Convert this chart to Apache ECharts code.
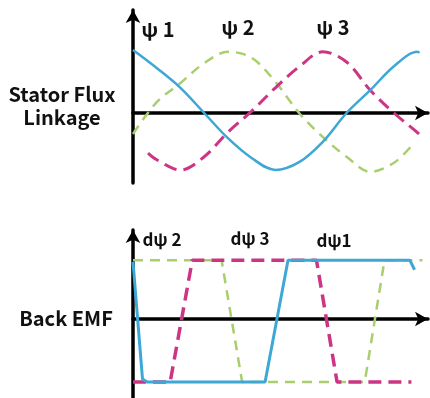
<!DOCTYPE html>
<html>
<head>
<meta charset="utf-8">
<script src="https://cdn.jsdelivr.net/npm/echarts@6/dist/echarts.min.js"></script>
<style>
  html, body { margin: 0; padding: 0; background: #fff; }
  #chart { width: 430px; height: 398px; }
</style>
</head>
<body>
<div id="chart"></div>
<script>
// Electrical angle (degrees) and normalised amplitude for each phase.
// Stator flux linkage, three phases 120 degrees apart.
const psi1 = [[0,1.05],[30,0.75],[60,0.42],[90,0],[120,-0.42],[150,-0.75],[180,-0.95],[210,-0.82],[240,-0.48],[270,0],[300,0.38],[330,0.78],[360,1.02],[362,1.0]];
const psi2 = [[0,-0.35],[30,0.18],[60,0.5],[90,0.83],[120,1.02],[150,0.92],[180,0.52],[210,0],[240,-0.4],[270,-0.73],[300,-0.98],[330,-0.83],[352,-0.55]];
const psi3 = [[19,-0.67],[30,-0.78],[60,-0.95],[90,-0.73],[120,-0.32],[150,0.03],[180,0.42],[210,0.77],[240,1.02],[270,0.85],[300,0.38],[330,0],[360,-0.33],[366,-0.4]];

// Back EMF (derivative of flux), trapezoidal waveforms.
const dpsi1 = [[0,0.95],[12,-1.0],[18,-1.05],[167,-1.05],[196,0.98],[350,0.98],[356,0.82]];
const dpsi2 = [[0,0.98],[112,0.98],[138,-1.05],[293,-1.05],[318,0.98],[366,0.98]];
const dpsi3 = [[0,-1.05],[47,-1.05],[75,0.98],[232,0.98],[258,-1.05],[352,-1.05]];

const fluxLabels = ['ψ 1', 'ψ 2', 'ψ 3'];
const emfLabels = ['dψ 2', 'dψ 3', 'dψ1'];
const rowTitles = ['Stator Flux\nLinkage', 'Back EMF'];

const BLUE = '#3da7d5';
const GREEN = '#a8ce6e';
const MAGENTA = '#cc3584';
const FONT = '"Noto Sans CJK KR", "Noto Sans", sans-serif';

function xAxisCfg(gridIndex) {
  return {
    type: 'value', gridIndex, min: 0, max: 373,
    axisLine: { show: true, onZero: true, symbol: ['none', 'arrow'], symbolSize: [11, 13], lineStyle: { color: '#000', width: 3.5 } },
    axisTick: { show: false }, axisLabel: { show: false }, splitLine: { show: false }
  };
}
function yAxisCfg(gridIndex, min, max) {
  return {
    type: 'value', gridIndex, min, max,
    axisLine: { show: true, onZero: false, symbol: ['none', 'arrow'], symbolSize: [11, 13], lineStyle: { color: '#000', width: 3.5 } },
    axisTick: { show: false }, axisLabel: { show: false }, splitLine: { show: false }
  };
}
function line(data, idx, color, dash, width, smooth) {
  return {
    type: 'line', data, xAxisIndex: idx, yAxisIndex: idx,
    showSymbol: false, smooth: smooth, animation: false,
    lineStyle: { color, width, type: dash || 'solid', cap: 'butt' }
  };
}
function label(text, x, y, size, lh) {
  return {
    type: 'text', x, y,
    style: { text, font: 'bold ' + size + 'px ' + FONT, fill: '#111', align: 'center', verticalAlign: 'middle', lineHeight: lh || size }
  };
}

const chart = echarts.init(document.getElementById('chart'), null, { renderer: 'canvas' });
chart.setOption({
  backgroundColor: '#fff',
  animation: false,
  grid: [
    { left: 133, right: 2, top: 10, height: 173 },
    { left: 133, right: 2, top: 230, height: 168 }
  ],
  xAxis: [xAxisCfg(0), xAxisCfg(1)],
  yAxis: [yAxisCfg(0, -1.167, 1.717), yAxisCfg(1, -1.317, 1.483)],
  series: [
    line(psi2, 0, GREEN, [10, 7], 2.5, 0.35),
    line(psi3, 0, MAGENTA, [13, 7], 3, 0.35),
    line(psi1, 0, BLUE, null, 2.5, 0.35),
    line(dpsi2, 1, GREEN, [10, 7], 2.5, false),
    line(dpsi3, 1, MAGENTA, [13, 7], 3.5, false),
    line(dpsi1, 1, BLUE, null, 3, false)
  ],
  graphic: [
    label(fluxLabels[0], 158, 29, 20),
    label(fluxLabels[1], 238, 27, 20),
    label(fluxLabels[2], 333, 27, 20),
    label(emfLabels[0], 162, 240, 17),
    label(emfLabels[1], 250, 239, 17),
    label(emfLabels[2], 334, 241, 17),
    label(rowTitles[0], 62, 106, 20, 23),
    label(rowTitles[1], 66, 318, 20)
  ]
});
</script>
</body>
</html>
